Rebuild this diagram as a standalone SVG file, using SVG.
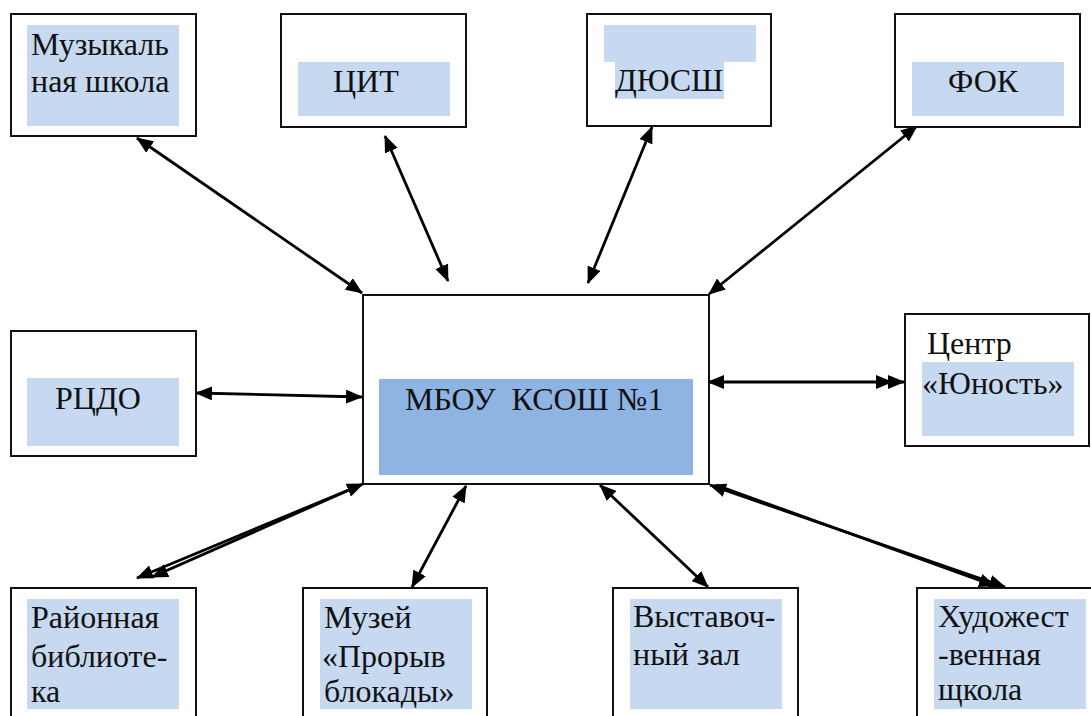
<svg xmlns="http://www.w3.org/2000/svg" width="1091" height="716" viewBox="0 0 1091 716">
<style>
.box{fill:#fff;stroke:#111;stroke-width:2}
.fl{fill:#C6D9F1}
.fc{fill:#8EB4E3}
text{font-family:Liberation Serif, Times New Roman, serif;font-size:32px;fill:#111}
.c{stroke:#000;stroke-width:2.8;fill:none}
</style>
<defs>
<marker id="ah" markerUnits="userSpaceOnUse" markerWidth="18" markerHeight="14" refX="16" refY="7" orient="auto-start-reverse">
<path d="M0,0 L17,7 L0,14 z" fill="#000"/>
</marker>
</defs>
<rect width="1091" height="716" fill="#fff"/>
<g id="connectors">
<line class="c" x1="137" y1="138" x2="362" y2="293" marker-start="url(#ah)" marker-end="url(#ah)"/>
<line class="c" x1="385" y1="136" x2="448" y2="281" marker-start="url(#ah)" marker-end="url(#ah)"/>
<line class="c" x1="652" y1="127" x2="588" y2="283" marker-start="url(#ah)" marker-end="url(#ah)"/>
<line class="c" x1="917" y1="126" x2="709" y2="294" marker-start="url(#ah)" marker-end="url(#ah)"/>
<line class="c" x1="196" y1="393" x2="362" y2="397" marker-start="url(#ah)" marker-end="url(#ah)"/>
<line class="c" x1="708" y1="382" x2="904" y2="382" marker-start="url(#ah)" marker-end="url(#ah)"/>
<path d="M876,375 L893,382 L876,389 z" fill="#000"/>
<line class="c" x1="363" y1="484" x2="137" y2="578" marker-start="url(#ah)" marker-end="url(#ah)"/>
<line class="c" x1="356" y1="487" x2="152" y2="577" marker-end="url(#ah)"/>
<line class="c" x1="466" y1="486" x2="412" y2="587" marker-start="url(#ah)" marker-end="url(#ah)"/>
<line class="c" x1="600" y1="485" x2="708" y2="587" marker-start="url(#ah)" marker-end="url(#ah)"/>
<line class="c" x1="710" y1="485" x2="1005" y2="587" marker-start="url(#ah)" marker-end="url(#ah)"/>
<line class="c" x1="716" y1="485" x2="995" y2="586" marker-end="url(#ah)"/>
</g>
<g id="music">
<rect class="box" x="11" y="14" width="185" height="122"/>
<rect class="fl" x="27" y="25" width="152" height="101"/>
<text x="31" y="55" font-family="Liberation Serif">Музыкаль</text>
<text x="31" y="92" font-family="Liberation Serif">ная школа</text>
</g>
<g id="cit">
<rect class="box" x="281" y="14" width="185" height="113"/>
<rect class="fl" x="298" y="62" width="152" height="54"/>
<text x="333" y="92">ЦИТ</text>
</g>
<g id="dyussh">
<rect class="box" x="587" y="14" width="184" height="112"/>
<rect class="fl" x="604" y="25" width="152" height="37"/>
<rect class="fl" x="615" y="62" width="109" height="37"/>
<text x="615" y="91">ДЮСШ</text>
</g>
<g id="fok">
<rect class="box" x="895" y="14" width="185" height="113"/>
<rect class="fl" x="912" y="62" width="152" height="54"/>
<text x="948" y="92">ФОК</text>
</g>
<g id="rcdo">
<rect class="box" x="11" y="331" width="185" height="125"/>
<rect class="fl" x="27" y="378" width="152" height="68"/>
<text x="55" y="409">РЦДО</text>
</g>
<g id="school">
<rect class="box" x="363" y="295" width="346" height="189"/>
<rect class="fc" x="379" y="379" width="314" height="96"/>
<text x="405" y="410" xml:space="preserve">МБОУ  КСОШ №1</text>
</g>
<g id="yunost">
<rect class="box" x="905" y="314" width="184" height="132"/>
<rect class="fl" x="922" y="362" width="152" height="74"/>
<text x="927" y="354">Центр</text>
<text x="922" y="394">«Юность»</text>
</g>
<g id="library">
<rect class="box" x="11" y="588" width="185" height="140"/>
<rect class="fl" x="27" y="599" width="152" height="110"/>
<text x="31" y="628">Районная</text>
<text x="31" y="667">библиоте-</text>
<text x="31" y="702">ка</text>
</g>
<g id="museum">
<rect class="box" x="303" y="588" width="184" height="140"/>
<rect class="fl" x="320" y="599" width="152" height="110"/>
<text x="324" y="628">Музей</text>
<text x="322" y="667">«Прорыв</text>
<text x="324" y="702">блокады»</text>
</g>
<g id="exhibition">
<rect class="box" x="613" y="588" width="185" height="140"/>
<rect class="fl" x="630" y="599" width="152" height="110"/>
<text x="633" y="627">Выставоч-</text>
<text x="633" y="665">ный зал</text>
</g>
<g id="art">
<rect class="box" x="917" y="588" width="184" height="140"/>
<rect class="fl" x="934" y="599" width="152" height="110"/>
<text x="938" y="627">Художест</text>
<text x="938" y="665">-венная</text>
<text x="938" y="700">щкола</text>
</g>
</svg>
